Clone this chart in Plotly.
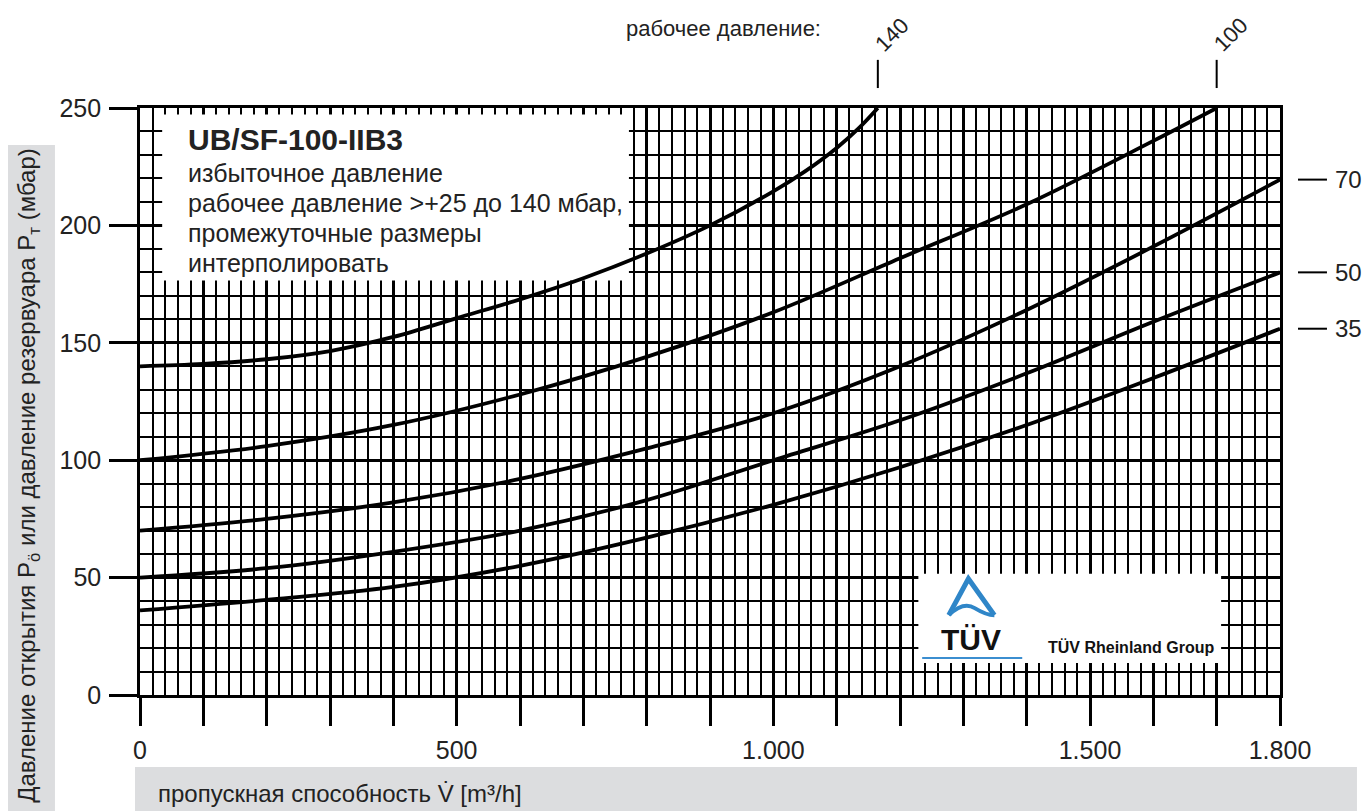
import plotly.graph_objects as go

# ---------------- data ----------------
x_ticks = [0, 100, 200, 300, 400, 500, 600, 700, 800, 900, 1000,
           1100, 1200, 1300, 1400, 1500, 1600, 1700, 1800]
x_ticktext = ["0", "", "", "", "", "500", "", "", "", "", "1.000",
              "", "", "", "", "1.500", "", "", "1.800"]
y_ticks = [0, 50, 100, 150, 200, 250]
y_ticktext = ["0", "50", "100", "150", "200", "250"]

# operating pressure 140 mbar
p140_x = [0, 100, 200, 300, 400, 500, 600, 700, 800, 900, 1000, 1050, 1100, 1135, 1165]
p140_y = [140, 141, 143, 146.5, 152.5, 160.5, 168.5, 177.5, 188, 200, 214.5, 223, 233, 241.4, 250]
# operating pressure 100 mbar
p100_x = [0, 200, 400, 600, 800, 1000, 1200, 1400, 1600, 1700]
p100_y = [100, 106, 115, 128, 144, 163, 186, 209, 236, 250]
# operating pressures 70, 50, 35 mbar
flow = [0, 200, 400, 600, 800, 1000, 1200, 1400, 1600, 1800]
p70_y = [70, 75, 82, 92, 105, 120, 140, 164, 191, 219.5]
p50_y = [50, 54, 61, 70, 83, 100, 117, 137, 159, 180]
p35_y = [36, 40.5, 46, 55, 67, 81, 97, 115, 135, 156]

right_labels = ["70", "50", "35"]
top_labels = ["140", "100"]

X_MAX, Y_MAX = 1800, 250
FONT = "Liberation Sans, Arial, sans-serif"
TXT = "#222222"
GRAY = "#dcdddf"
BLUE = "#2f86c8"

fig = go.Figure()

curves = [(p140_x, p140_y), (p100_x, p100_y), (flow, p70_y), (flow, p50_y), (flow, p35_y)]
for cx, cy in curves:
    fig.add_trace(go.Scatter(x=cx, y=cy, mode="lines",
                             line=dict(color="black", width=3.8, shape="spline", smoothing=1.0),
                             showlegend=False, hoverinfo="skip"))

shapes = []
annotations = []

# white box for the title block (above grid, below curves)
shapes.append(dict(type="rect", xref="x", yref="y", x0=35, x1=772, y0=176.5, y1=247.2,
                   fillcolor="white", line=dict(width=0), layer="between"))
# white box for the TÜV logo
shapes.append(dict(type="rect", xref="x", yref="y", x0=1229, x1=1707, y0=13.6, y1=51.6,
                   fillcolor="white", line=dict(width=0), layer="between"))

# title block texts
annotations.append(dict(x=72, y=236.6, xref="x", yref="y", text="<b>UB/SF-100-IIB3</b>",
                        showarrow=False, xanchor="left", yanchor="middle",
                        font=dict(family=FONT, size=30, color=TXT)))
block_lines = ["избыточное давление", "рабочее давление >+25 до 140 мбар,",
               "промежуточные размеры", "интерполировать"]
block_y = [222.2, 209.7, 196.9, 184.1]
for t, yy in zip(block_lines, block_y):
    annotations.append(dict(x=72, y=yy, xref="x", yref="y", text=t, showarrow=False,
                            xanchor="left", yanchor="middle",
                            font=dict(family=FONT, size=25, color=TXT)))

# TÜV logo
shapes.append(dict(type="path", xref="x", yref="y",
                   path="M 1277,34 L 1308,49.5 L 1349,34",
                   line=dict(color=BLUE, width=5), layer="above"))
shapes.append(dict(type="path", xref="x", yref="y",
                   path="M 1277,34 Q 1300,40 1318,37 T 1349,34",
                   line=dict(color=BLUE, width=4), layer="above"))
shapes.append(dict(type="line", xref="x", yref="y", x0=1235, x1=1393, y0=15.8, y1=15.8,
                   line=dict(color="#3b8ed0", width=2), layer="above"))
annotations.append(dict(x=1312, y=23.8, xref="x", yref="y", text="<b>TÜV</b>", showarrow=False,
                        xanchor="center", yanchor="middle",
                        font=dict(family=FONT, size=30, color="#111111")))
annotations.append(dict(x=1430, y=20.5, xref="x", yref="y", text="<b>TÜV Rheinland Group</b>",
                        showarrow=False, xanchor="left", yanchor="middle",
                        font=dict(family=FONT, size=16, color="#111111")))

# right side labels at curve ends
for lab, cy in zip(right_labels, [p70_y, p50_y, p35_y]):
    shapes.append(dict(type="line", xref="paper", yref="y", x0=1.0158, x1=1.0412,
                       y0=cy[-1], y1=cy[-1], line=dict(color="black", width=2)))
    annotations.append(dict(x=1.0465, y=cy[-1], xref="paper", yref="y", text=lab,
                            showarrow=False, xanchor="left", yanchor="middle",
                            font=dict(family=FONT, size=24, color=TXT)))

# top labels where curves reach 250
for lab, cx in zip(top_labels, [p140_x, p100_x]):
    shapes.append(dict(type="line", xref="x", yref="paper", x0=cx[-1], x1=cx[-1],
                       y0=1.034, y1=1.082, line=dict(color="black", width=2)))
    annotations.append(dict(x=cx[-1], y=1.126, xref="x", yref="paper", text=lab,
                            showarrow=False, textangle=-45, xshift=14,
                            xanchor="center", yanchor="middle",
                            font=dict(family=FONT, size=22, color=TXT)))
annotations.append(dict(x=1078, y=1.136, xref="x", yref="paper", text="рабочее давление:",
                        showarrow=False, xanchor="right", yanchor="middle",
                        font=dict(family=FONT, size=22, color=TXT)))

# axis title boxes
shapes.append(dict(type="rect", xref="paper", yref="paper", x0=-0.1202, x1=-0.0746,
                   y0=-0.1976, y1=0.937, fillcolor=GRAY, line=dict(width=0), layer="below"))
shapes.append(dict(type="rect", xref="paper", yref="paper", x0=-0.0044, x1=1.0675,
                   y0=-0.1976, y1=-0.1227, fillcolor=GRAY, line=dict(width=0), layer="below"))
annotations.append(dict(x=-0.0974, y=0.375, xref="paper", yref="paper",
                        text="Давление открытия P<sub>ö</sub> или давление резервуара P<sub>т</sub> (мбар)",
                        showarrow=False, textangle=-90, xanchor="center", yanchor="middle",
                        font=dict(family=FONT, size=24, color=TXT)))
annotations.append(dict(x=0.0140, y=-0.1670, xref="paper", yref="paper",
                        text="пропускная способность V\u0307 [m³/h]",
                        showarrow=False, xanchor="left", yanchor="middle",
                        font=dict(family=FONT, size=24, color=TXT)))

fig.update_layout(
    width=1363, height=803, autosize=False,
    margin=dict(l=132, r=91, t=100, b=116),
    paper_bgcolor="white", plot_bgcolor="white",
    shapes=shapes, annotations=annotations,
    xaxis=dict(range=[0, X_MAX], tickmode="array", tickvals=x_ticks, ticktext=x_ticktext,
               showgrid=True, gridcolor="black", gridwidth=2.6,
               minor=dict(tickmode="linear", tick0=0, dtick=20, showgrid=True,
                          gridcolor="black", gridwidth=1.6),
               showline=True, linecolor="black", linewidth=2.6, mirror=True,
               ticks="outside", ticklen=28, tickwidth=2.6, tickcolor="black",
               ticklabelstandoff=3, zeroline=False,
               tickfont=dict(family=FONT, size=25, color=TXT)),
    yaxis=dict(range=[0, Y_MAX], tickmode="array", tickvals=y_ticks, ticktext=y_ticktext,
               showgrid=True, gridcolor="black", gridwidth=2.6,
               minor=dict(tickmode="linear", tick0=0, dtick=10, showgrid=True,
                          gridcolor="black", gridwidth=1.6),
               showline=True, linecolor="black", linewidth=2.6, mirror=True,
               ticks="outside", ticklen=28, tickwidth=2.6, tickcolor="black",
               ticklabelstandoff=3, zeroline=False,
               tickfont=dict(family=FONT, size=25, color=TXT)),
)

fig.write_html("out.html")
